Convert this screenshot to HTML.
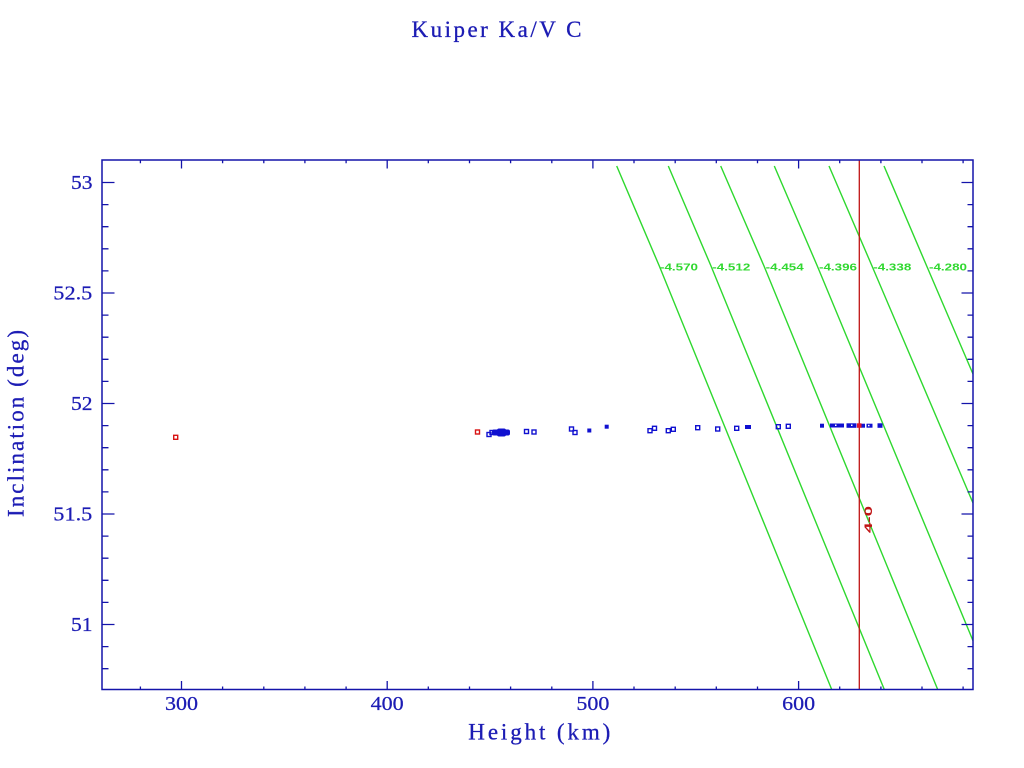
<!DOCTYPE html>
<html>
<head>
<meta charset="utf-8">
<style>
html,body{margin:0;padding:0;background:#fff;}
svg{display:block;}
</style>
</head>
<body>
<svg width="1024" height="768" viewBox="0 0 1024 768" xmlns="http://www.w3.org/2000/svg">
<rect width="1024" height="768" fill="#ffffff"/>
<text x="411.5" y="37" font-family="Liberation Serif, serif" font-size="23" fill="#1c1cb4" stroke="#1c1cb4" stroke-width="0.3" textLength="170" lengthAdjust="spacing">Kuiper Ka/V C</text>
<g fill="none" stroke="#2ed82e" stroke-width="1.4">
<polyline points="616.7,166 659.3,266 831.7,689.5"/>
<polyline points="668.3,166 711,266 884.3,689.5"/>
<polyline points="720.7,166 764,266 937.7,689.5"/>
<polyline points="774.3,166 817.3,266 973,640.7"/>
<polyline points="829,166 872,266 973,503"/>
<polyline points="884,166 926.7,266 973,374"/>
</g>
<g font-family="Liberation Sans, sans-serif" font-size="10.5" font-weight="bold" fill="#30d830">
<text x="660" y="270.5" textLength="38" lengthAdjust="spacingAndGlyphs">-4.570</text>
<text x="712.3" y="270.5" textLength="38" lengthAdjust="spacingAndGlyphs">-4.512</text>
<text x="765.7" y="270.5" textLength="38" lengthAdjust="spacingAndGlyphs">-4.454</text>
<text x="819" y="270.5" textLength="38" lengthAdjust="spacingAndGlyphs">-4.396</text>
<text x="873.3" y="270.5" textLength="38" lengthAdjust="spacingAndGlyphs">-4.338</text>
<text x="929" y="270.5" textLength="38" lengthAdjust="spacingAndGlyphs">-4.280</text>
</g>
<line x1="859.3" y1="160" x2="859.3" y2="689.5" stroke="#c01414" stroke-width="1.3"/>
<text transform="translate(872,533) rotate(-90)" font-family="Liberation Sans, sans-serif" font-size="11" font-weight="bold" fill="#c01414" textLength="27" lengthAdjust="spacingAndGlyphs">4-0</text>
<g fill="none" stroke="#1010d0" stroke-width="1.4">
<rect x="487" y="432.5" width="4" height="4"/>
<rect x="490" y="430.5" width="4" height="4"/>
<rect x="524.5" y="429.5" width="4" height="4"/>
<rect x="532" y="430" width="4" height="4"/>
<rect x="569.5" y="427" width="4" height="4"/>
<rect x="573" y="430.5" width="4" height="4"/>
<rect x="648" y="428.7" width="4" height="4"/>
<rect x="652.5" y="426.3" width="4" height="4"/>
<rect x="666.3" y="428.7" width="4" height="4"/>
<rect x="671.3" y="427.3" width="4" height="4"/>
<rect x="695.7" y="425.7" width="4" height="4"/>
<rect x="715.7" y="427" width="4" height="4"/>
<rect x="734.7" y="426.3" width="4" height="4"/>
<rect x="776.3" y="424.7" width="4" height="4"/>
<rect x="786.3" y="424.3" width="4" height="4"/>
</g>
<g fill="#1010d0">
<rect x="492" y="429.5" width="18" height="6" rx="2"/>
<rect x="497" y="428.5" width="9" height="8" rx="2"/>
<rect x="587.3" y="428.5" width="4" height="4"/>
<rect x="604.7" y="424.7" width="4" height="4"/>
<rect x="745" y="425" width="6" height="4"/>
<rect x="820" y="423.7" width="4" height="4"/>
<rect x="830" y="423.5" width="14" height="4"/>
<rect x="846.5" y="423.3" width="10" height="4.5"/>
<rect x="861" y="423.7" width="4" height="4"/>
<rect x="866.5" y="423.7" width="6" height="4"/>
<rect x="877.5" y="423.3" width="5" height="4.5"/>
</g>
<g fill="#ffffff">
<rect x="835" y="424.5" width="1.5" height="1.5"/>
<rect x="851" y="424.5" width="1.5" height="1.5"/>
<rect x="868" y="424.8" width="1.5" height="1.5"/>
</g>
<g fill="none" stroke="#d81414" stroke-width="1.4">
<rect x="173.7" y="435.3" width="4" height="4"/>
<rect x="475.5" y="430" width="4" height="4"/>
</g>
<rect x="857" y="423.3" width="4.5" height="4.5" fill="#e0142a"/>
<rect x="102" y="160" width="871" height="529.5" fill="none" stroke="#1414aa" stroke-width="1.5"/>
<path stroke="#1414aa" stroke-width="1.3" fill="none" d="
M181.5 689.5V681M387.2 689.5V681M592.9 689.5V681M798.6 689.5V681
M181.5 160V168.5M387.2 160V168.5M592.9 160V168.5M798.6 160V168.5
M140.4 689.5V686.5M222.6 689.5V686.5M263.8 689.5V686.5M304.9 689.5V686.5M346.1 689.5V686.5
M428.3 689.5V686.5M469.5 689.5V686.5M510.6 689.5V686.5M551.8 689.5V686.5
M634 689.5V686.5M675.2 689.5V686.5M716.3 689.5V686.5M757.5 689.5V686.5
M839.7 689.5V686.5M880.9 689.5V686.5M922 689.5V686.5M963.1 689.5V686.5
M140.4 160V163.3M222.6 160V163.3M263.8 160V163.3M304.9 160V163.3M346.1 160V163.3
M428.3 160V163.3M469.5 160V163.3M510.6 160V163.3M551.8 160V163.3
M634 160V163.3M675.2 160V163.3M716.3 160V163.3M757.5 160V163.3
M839.7 160V163.3M880.9 160V163.3M922 160V163.3M963.1 160V163.3
M102 182.5H114.5M102 293H114.5M102 403.5H114.5M102 514H114.5M102 624.5H114.5
M973 182.5H961.5M973 293H961.5M973 403.5H961.5M973 514H961.5M973 624.5H961.5
M102 204.6H108.5M102 226.7H108.5M102 248.8H108.5M102 270.9H108.5
M102 315.1H108.5M102 337.2H108.5M102 359.3H108.5M102 381.4H108.5
M102 425.6H108.5M102 447.7H108.5M102 469.8H108.5M102 491.9H108.5
M102 536.1H108.5M102 558.2H108.5M102 580.3H108.5M102 602.4H108.5
M102 646.6H108.5M102 668.7H108.5
M973 204.6H967.5M973 226.7H967.5M973 248.8H967.5M973 270.9H967.5
M973 315.1H967.5M973 337.2H967.5M973 359.3H967.5M973 381.4H967.5
M973 425.6H967.5M973 447.7H967.5M973 469.8H967.5M973 491.9H967.5
M973 536.1H967.5M973 558.2H967.5M973 580.3H967.5M973 602.4H967.5
M973 646.6H967.5M973 668.7H967.5"/>
<g font-family="Liberation Serif, serif" font-size="19.5" fill="#1c1cb4" stroke="#1c1cb4" stroke-width="0.25" text-anchor="middle">
<text x="181.5" y="710" textLength="33" lengthAdjust="spacingAndGlyphs">300</text>
<text x="387.2" y="710" textLength="33" lengthAdjust="spacingAndGlyphs">400</text>
<text x="592.9" y="710" textLength="33" lengthAdjust="spacingAndGlyphs">500</text>
<text x="798.6" y="710" textLength="33" lengthAdjust="spacingAndGlyphs">600</text>
</g>
<g font-family="Liberation Serif, serif" font-size="19.5" fill="#1c1cb4" stroke="#1c1cb4" stroke-width="0.25">
<text x="71" y="189.2" textLength="21.5" lengthAdjust="spacingAndGlyphs">53</text>
<text x="53.3" y="299.7" textLength="39" lengthAdjust="spacingAndGlyphs">52.5</text>
<text x="71" y="410.2" textLength="21.5" lengthAdjust="spacingAndGlyphs">52</text>
<text x="53.3" y="520.7" textLength="39" lengthAdjust="spacingAndGlyphs">51.5</text>
<text x="71" y="631.2" textLength="21.5" lengthAdjust="spacingAndGlyphs">51</text>
</g>
<text x="468.3" y="739.3" font-family="Liberation Serif, serif" font-size="23" fill="#1c1cb4" stroke="#1c1cb4" stroke-width="0.3" textLength="142" lengthAdjust="spacing">Height (km)</text>
<text transform="translate(23.5,517) rotate(-90)" font-family="Liberation Serif, serif" font-size="23" fill="#1c1cb4" stroke="#1c1cb4" stroke-width="0.3" textLength="187" lengthAdjust="spacing">Inclination (deg)</text>
</svg>
</body>
</html>
